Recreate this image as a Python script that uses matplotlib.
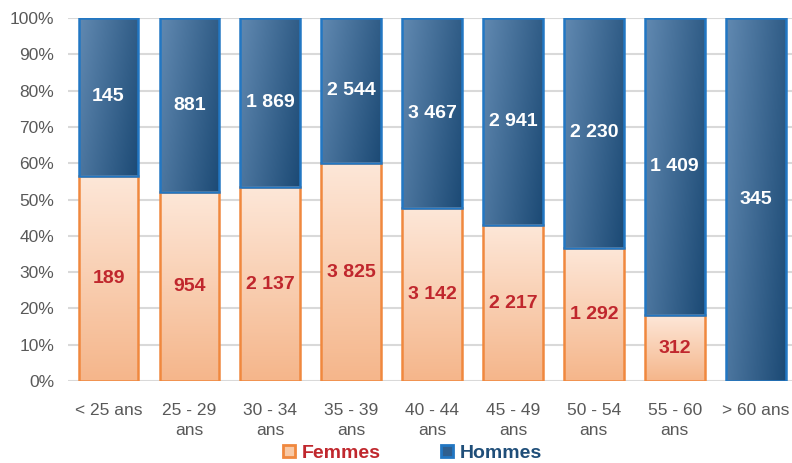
import matplotlib.pyplot as plt
import numpy as np
from matplotlib.colors import LinearSegmentedColormap
from matplotlib.lines import Line2D

plt.rcParams['font.family'] = ['Liberation Sans', 'DejaVu Sans']

# Data
categories = ["< 25 ans", "25 - 29\nans", "30 - 34\nans", "35 - 39\nans", "40 - 44\nans",
              "45 - 49\nans", "50 - 54\nans", "55 - 60\nans", "> 60 ans"]
femmes = [189, 954, 2137, 3825, 3142, 2217, 1292, 312, 0]
hommes = [145, 881, 1869, 2544, 3467, 2941, 2230, 1409, 345]

def fmt(v):
    return "{:,}".format(v).replace(",", " ")

femmes = np.array(femmes, dtype=float)
hommes = np.array(hommes, dtype=float)
total = femmes + hommes
pf = femmes / total * 100
ph = hommes / total * 100

fig = plt.figure(figsize=(7.92, 4.63), dpi=100)
ax = fig.add_axes([0.086, 0.177, 0.914, 0.784])

x = np.arange(len(categories))
width = 0.74

cmap_f = LinearSegmentedColormap.from_list("f", ["#fde7d8", "#f5b68b"])
cmap_h = LinearSegmentedColormap.from_list("h", ["#6189b1", "#1c4a75"])

bars_f = ax.bar(x, pf, width, color="none", edgecolor="none", zorder=2)
bars_h = ax.bar(x, ph, width, bottom=pf, color="none", edgecolor="none", zorder=2)

# gradient fills
gy = np.linspace(0, 1, 100).reshape(-1, 1)
for b in bars_f:
    if b.get_height() <= 0:
        continue
    x0, y0 = b.get_x(), b.get_y()
    im = ax.imshow(gy, cmap=cmap_f, aspect="auto", origin="upper",
                   extent=[x0, x0 + b.get_width(), y0, y0 + b.get_height()], zorder=2)
    im.set_clip_path(b)
    ax.add_patch(plt.Rectangle((x0, y0), b.get_width(), b.get_height(), fill=False,
                               edgecolor="#f0883e", lw=1.8, zorder=3))

gx = np.linspace(0, 1, 60)
gv = np.linspace(0, 1, 100)
grad_h = 0.7 * gx[None, :] + 0.3 * gv[:, None]
for b in bars_h:
    x0, y0 = b.get_x(), b.get_y()
    im = ax.imshow(grad_h, cmap=cmap_h, aspect="auto", origin="upper",
                   extent=[x0, x0 + b.get_width(), y0, y0 + b.get_height()], zorder=2)
    im.set_clip_path(b)
    ax.add_patch(plt.Rectangle((x0, y0), b.get_width(), b.get_height(), fill=False,
                               edgecolor="#2277c3", lw=1.8, zorder=3))

# labels
for i in range(len(categories)):
    if femmes[i] > 0:
        ax.text(x[i], pf[i] / 2, fmt(int(femmes[i])), ha="center", va="center",
                color="#c0272d", fontsize=14, fontweight="bold", zorder=4)
    ax.text(x[i], pf[i] + ph[i] / 2, fmt(int(hommes[i])), ha="center", va="center",
            color="white", fontsize=14, fontweight="bold", zorder=4)

ax.set_xlim(-0.5, 8.45)
ax.set_ylim(0, 100)
ax.set_yticks(np.arange(0, 101, 10))
ax.set_yticklabels([f"{v}%" for v in range(0, 101, 10)], color="#595959", fontsize=12.5)
ax.set_xticks(x)
ax.set_xticklabels(categories, color="#595959", fontsize=12.5, linespacing=1.4)
ax.tick_params(axis="y", length=0, pad=10)
ax.tick_params(axis="x", length=0, pad=16)
ax.yaxis.grid(True, color="#d9d9d9", lw=1.5, zorder=0)
ax.set_axisbelow(True)
for s in ax.spines.values():
    s.set_visible(False)

handles = [Line2D([], [], marker="s", ls="none", markersize=9, markerfacecolor="#f8c9a6",
                  markeredgecolor="#f0883e", markeredgewidth=2),
           Line2D([], [], marker="s", ls="none", markersize=9, markerfacecolor="#2f5f8f",
                  markeredgecolor="#2277c3", markeredgewidth=2)]
leg = fig.legend(handles, ["Femmes", "Hommes"], loc="center", bbox_to_anchor=(0.52, 0.022),
                 ncol=2, frameon=False, handlelength=0.8, handletextpad=0.25, columnspacing=3.0,
                 borderpad=0, prop={"weight": "bold", "size": 14})
leg.get_texts()[0].set_color("#c0272d")
leg.get_texts()[1].set_color("#1f4e79")

plt.savefig("out.png", dpi=100)
